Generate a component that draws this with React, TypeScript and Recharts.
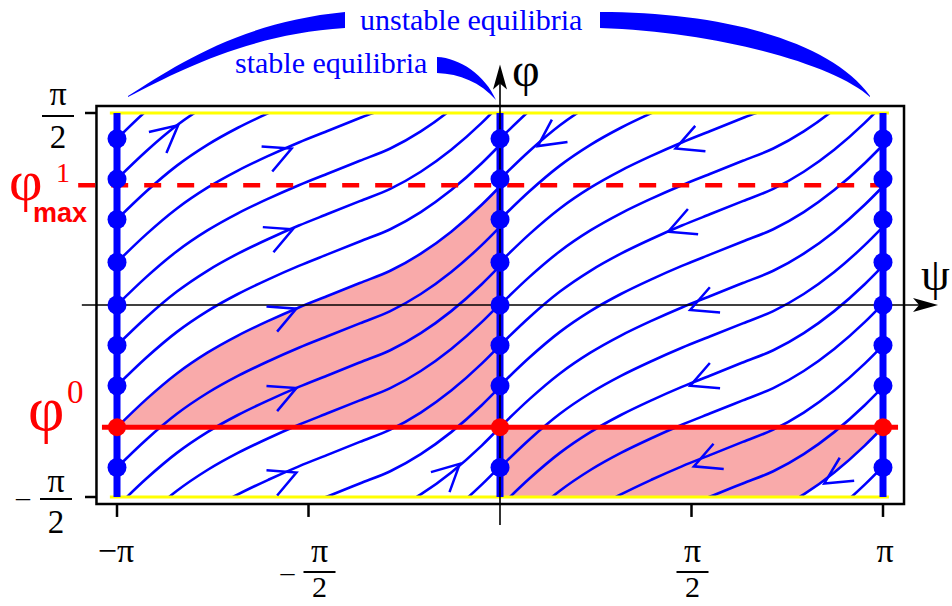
import React from 'react';
import {
  ComposedChart,
  Line,
  Area,
  Scatter,
  XAxis,
  YAxis,
  ReferenceLine,
  ReferenceArea,
  ReferenceDot,
} from 'recharts';

const PI = Math.PI;
const SERIF = '"Liberation Serif", "DejaVu Serif", serif';
const SANS = '"Liberation Sans", Arial, sans-serif';
const BLUE = '#0000ff';
const RED = '#ff0000';
const PINK = '#f9aaaa';

// one streamline: how far phi has risen along the flow
// between an unstable line (psi = -pi) and the next stable one (psi = 0)
const psiSamples = [-PI, -2.9, -2.65, -2.4, -2.15, -1.9, -1.65, -1.4, -1.15, -0.9, -0.65, -0.4, -0.15, 0];
const riseAlongFlow = [0, 0.23, 0.44, 0.61, 0.75, 0.87, 0.98, 1.08, 1.18, 1.28, 1.42, 1.6, 1.82, 1.97];

// equilibria lines and the dots drawn on them
const equilibriumPsi = [-PI, 0, PI];
const equilibriumPhi = [1.36, 1.03, 0.7, 0.35, 0, -0.33, -0.66, -1.33];
const phi0 = -1.0;
const phiMax = 0.98;
// streamlines that come in through the lower edge
const lowerEntryPhi = [-1.65, -1.96, -2.3, -2.64, -2.97, -3.29];
// left half goes as it is, right half is the same family one half period over
const halfPeriodShift = [0, PI];

// direction arrows: tip position and screen angle in degrees
const forwardArrows = [
  { psi: -2.64, phi: 1.47, angle: -40 },
  { psi: -1.71, phi: 1.28, angle: -23 },
  { psi: -1.7, phi: 0.62, angle: -23 },
  { psi: -1.67, phi: -0.03, angle: -23 },
  { psi: -1.67, phi: -0.68, angle: -23 },
  { psi: -1.67, phi: -1.37, angle: -23 },
  { psi: -0.33, phi: -1.3, angle: -43 },
];
const backwardArrows = [
  { psi: 0.31, phi: 1.3, angle: 145 },
  { psi: 1.44, phi: 1.28, angle: 158 },
  { psi: 1.38, phi: 0.6, angle: 158 },
  { psi: 1.56, phi: -0.04, angle: 158 },
  { psi: 1.56, phi: -0.66, angle: 158 },
  { psi: 1.59, phi: -1.32, angle: 158 },
  { psi: 2.66, phi: -1.46, angle: 148 },
];

const xTicks = [-PI, -PI / 2, PI / 2, PI];
const yTicks = [-PI / 2, phi0, phiMax, PI / 2];

const sources = [...equilibriumPhi, phi0, ...lowerEntryPhi];
const streamlines = halfPeriodShift.flatMap((shift) =>
  sources.map((start) =>
    psiSamples.map((p, i) => ({ psi: p + shift, phi: start + riseAlongFlow[i] }))
  )
);

const totalRise = riseAlongFlow[riseAlongFlow.length - 1];
const leftBasin = psiSamples.map((p, i) => ({ psi: p, band: [phi0, phi0 + riseAlongFlow[i]] }));
const rightBasin = psiSamples.map((p, i) => ({
  psi: p + PI,
  band: [phi0 - totalRise + riseAlongFlow[i], phi0],
}));

const blueDots = equilibriumPsi.flatMap((psi) => equilibriumPhi.map((phi) => ({ psi, phi })));
const redDots = equilibriumPsi.map((psi) => ({ psi, phi: phi0 }));

const Chevron = (props: any) => {
  const { cx, cy, payload } = props;
  const a = (payload.angle * PI) / 180;
  const len = 30;
  const spread = (27 * PI) / 180;
  const x1 = cx + len * Math.cos(a + PI - spread);
  const y1 = cy + len * Math.sin(a + PI - spread);
  const x2 = cx + len * Math.cos(a + PI + spread);
  const y2 = cy + len * Math.sin(a + PI + spread);
  return <path d={`M${x1},${y1}L${cx},${cy}L${x2},${y2}`} fill="none" stroke={BLUE} strokeWidth={2.5} />;
};

const Fraction = ({ cx, top, bar, bottom, half, low = 33 }: any) => (
  <g fontFamily={SERIF} fontSize={34} fill="#000">
    <text x={cx} y={top} textAnchor="middle">π</text>
    <line x1={cx - half} x2={cx + half} y1={bar} y2={bar} stroke="#000" strokeWidth={2} />
    <text x={cx} y={bottom} textAnchor="middle" fontSize={low}>2</text>
  </g>
);

const XTick = (props: any) => {
  const { x, payload } = props;
  const v = payload.value;
  if (v < -3) {
    return (
      <text x={x - 1} y={562} textAnchor="middle" fontFamily={SERIF} fontSize={34} fill="#000">
        −π
      </text>
    );
  }
  if (v > 3) {
    return (
      <text x={x + 2} y={562} textAnchor="middle" fontFamily={SERIF} fontSize={34} fill="#000">
        π
      </text>
    );
  }
  if (v < 0) {
    return (
      <g>
        <text x={x - 21} y={581} textAnchor="middle" fontFamily={SERIF} fontSize={28} fill="#000">
          –
        </text>
        <Fraction cx={x + 11} top={562} bar={572} bottom={597} half={16} low={30} />
      </g>
    );
  }
  return <Fraction cx={x + 1} top={562} bar={572} bottom={597} half={16} low={30} />;
};

const YTick = (props: any) => {
  const { y, payload } = props;
  const v = payload.value;
  if (v > 1.5) return <Fraction cx={58} top={y - 8} bar={y + 3} bottom={y + 35} half={16} />;
  if (v < -1.5) {
    return (
      <g>
        <text x={23} y={y + 9} textAnchor="middle" fontFamily={SERIF} fontSize={28} fill="#000">
          –
        </text>
        <Fraction cx={56} top={y - 5} bar={y + 2} bottom={y + 36} half={16} />
      </g>
    );
  }
  if (v > 0) {
    return (
      <g fill={RED}>
        <text x={9} y={y + 15} fontFamily={SERIF} fontSize={58}>φ</text>
        <text x={56} y={y - 3} fontFamily={SERIF} fontSize={28}>1</text>
        <text x={33} y={y + 37} fontFamily={SANS} fontWeight="bold" fontSize={27}>max</text>
      </g>
    );
  }
  return (
    <g fill={RED}>
      <text x={28} y={y + 3} fontFamily={SERIF} fontSize={63}>φ</text>
      <text x={67} y={y - 24} fontFamily={SERIF} fontSize={33}>0</text>
    </g>
  );
};

const RightHead = (props: any) => {
  const { cx, cy } = props;
  return <path d={`M${cx},${cy}L${cx - 25},${cy - 7}L${cx - 19},${cy}L${cx - 25},${cy + 7}Z`} fill="#000" />;
};
const UpHead = (props: any) => {
  const { cx, cy } = props;
  return <path d={`M${cx},${cy}L${cx - 7},${cy + 25}L${cx},${cy + 19}L${cx + 7},${cy + 25}Z`} fill="#000" />;
};

export default function App() {
  return (
    <div style={{ position: 'absolute', left: 0, top: 0, width: 952, height: 606, background: '#fff' }}>
      <ComposedChart width={952} height={606} margin={{ top: 113, right: 69, bottom: 79, left: 0 }}>
        <XAxis
          type="number"
          dataKey="psi"
          domain={[-PI, PI]}
          ticks={xTicks}
          interval={0}
          axisLine={false}
          tickLine={false}
          tick={<XTick />}
          height={30}
        />
        <YAxis
          yAxisId="main"
          type="number"
          domain={[-PI / 2, PI / 2]}
          ticks={yTicks}
          interval={0}
          axisLine={false}
          tickLine={false}
          tick={<YTick />}
          width={117}
        />
        <YAxis yAxisId="clip" type="number" domain={[-PI / 2, PI / 2]} allowDataOverflow hide />

        {/* basins of attraction */}
        <Area yAxisId="clip" data={leftBasin} dataKey="band" type="monotone" fill={PINK} fillOpacity={1} stroke="none" isAnimationActive={false} />
        <Area yAxisId="clip" data={rightBasin} dataKey="band" type="monotone" fill={PINK} fillOpacity={1} stroke="none" isAnimationActive={false} />

        {/* streamlines */}
        {streamlines.map((pts, i) => (
          <Line
            key={`s${i}`}
            yAxisId="clip"
            data={pts}
            dataKey="phi"
            type="monotone"
            stroke={BLUE}
            strokeWidth={2.6}
            dot={false}
            activeDot={false}
            isAnimationActive={false}
          />
        ))}

        {/* frame */}
        <ReferenceArea yAxisId="main" x1={-3.31} x2={3.314} y1={-1.628} y2={1.628} fill="none" stroke="#000" strokeWidth={2.5} fillOpacity={0} ifOverflow="visible" />
        {[PI / 2, -PI / 2].map((v) => (
          <ReferenceLine key={`y${v}`} yAxisId="main" segment={[{ x: -3.2, y: v }, { x: 3.19, y: v }]} stroke="#ffff00" strokeWidth={3} ifOverflow="visible" />
        ))}
        {equilibriumPsi.map((v) => (
          <ReferenceLine key={`e${v}`} yAxisId="main" segment={[{ x: v, y: -PI / 2 }, { x: v, y: PI / 2 }]} stroke={BLUE} strokeWidth={7} ifOverflow="visible" />
        ))}
        <ReferenceLine yAxisId="main" segment={[{ x: -3.265, y: phi0 }, { x: 3.265, y: phi0 }]} stroke={RED} strokeWidth={5} ifOverflow="visible" />
        <ReferenceLine yAxisId="main" segment={[{ x: -3.46, y: phiMax }, { x: 3.28, y: phiMax }]} stroke={RED} strokeWidth={4.5} strokeDasharray="17 16" ifOverflow="visible" />

        <Scatter yAxisId="main" data={blueDots} dataKey="phi" isAnimationActive={false} shape={(p: any) => <circle cx={p.cx} cy={p.cy} r={9.5} fill={BLUE} />} />
        <Scatter yAxisId="main" data={redDots} dataKey="phi" isAnimationActive={false} shape={(p: any) => <circle cx={p.cx} cy={p.cy} r={9} fill={RED} />} />
        <Scatter yAxisId="main" data={forwardArrows} dataKey="phi" isAnimationActive={false} shape={<Chevron />} />
        <Scatter yAxisId="main" data={backwardArrows} dataKey="phi" isAnimationActive={false} shape={<Chevron />} />

        {/* coordinate axes and ticks */}
        <ReferenceLine yAxisId="main" segment={[{ x: -3.43, y: 0 }, { x: 3.5, y: 0 }]} stroke="#000" strokeWidth={1.6} ifOverflow="visible" />
        <ReferenceLine yAxisId="main" segment={[{ x: 0, y: -1.8 }, { x: 0, y: 1.9 }]} stroke="#000" strokeWidth={1.6} ifOverflow="visible" />
        <ReferenceDot yAxisId="main" x={3.593} y={0} ifOverflow="visible" shape={<RightHead />} />
        <ReferenceDot yAxisId="main" x={0} y={1.967} ifOverflow="visible" shape={<UpHead />} />
        {[PI / 2, -PI / 2].map((v) => (
          <ReferenceLine key={`yt${v}`} yAxisId="main" segment={[{ x: -3.404, y: v }, { x: -3.31, y: v }]} stroke="#000" strokeWidth={2.5} ifOverflow="visible" />
        ))}
        {xTicks.map((v) => (
          <ReferenceLine key={`xt${v}`} yAxisId="main" segment={[{ x: v, y: -1.628 }, { x: v, y: -1.734 }]} stroke="#000" strokeWidth={2.5} ifOverflow="visible" />
        ))}
      </ComposedChart>

      {/* annotations above the plot */}
      <svg width={952} height={606} style={{ position: 'absolute', left: 0, top: 0, pointerEvents: 'none' }}>
        <path d="M128,96 C175,66 240,22 345,12 L345,28 C250,34 180,70 128,97 Z" fill={BLUE} />
        <path d="M600,12 C720,12 830,40 870,96 L870,97 C835,65 720,32 600,28 Z" fill={BLUE} />
        <path d="M437,57 C460,58 485,75 496,100 C480,82 460,74 437,73 Z" fill={BLUE} />
        <text x={360} y={30} fontFamily={SERIF} fontSize={30} fill={BLUE}>unstable equilibria</text>
        <text x={235} y={73} fontFamily={SERIF} fontSize={30} fill={BLUE}>stable equilibria</text>
        <text x={512} y={86} fontFamily={SERIF} fontSize={48} fill="#000">φ</text>
        <text x={921} y={290} fontFamily={SERIF} fontSize={46} fill="#000">ψ</text>
      </svg>
    </div>
  );
}
